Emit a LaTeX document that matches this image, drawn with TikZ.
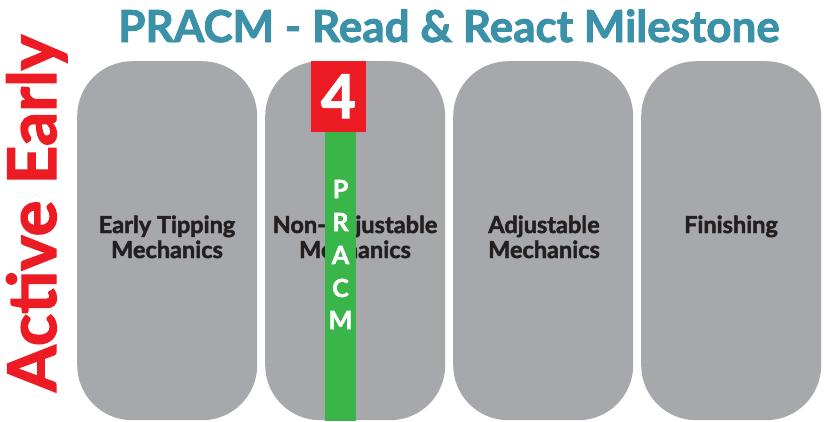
\documentclass[tikz,border=0pt]{standalone}
\usepackage{fontspec}
\setmainfont{Lato}[BoldFeatures={FakeBold=2}]
\definecolor{boxgray}{HTML}{A7A8AB}
\definecolor{pred}{HTML}{ED1C24}
\definecolor{pgreen}{HTML}{39B54A}
\definecolor{pteal}{HTML}{3A91A8}
\definecolor{ptext}{HTML}{231F20}
\begin{document}
\begin{tikzpicture}[x=1pt,y=-1pt,
  stage/.style={fill=boxgray,draw=none,rounded corners=55pt,minimum width=180pt,minimum height=359pt,inner sep=0pt,anchor=north west},
  stagetext/.style={text=ptext,font=\fontsize{23.5}{25}\selectfont\bfseries,align=center,anchor=base},
  letter/.style={text=white,font=\fontsize{25}{25}\selectfont\bfseries,anchor=base}]
\useasboundingbox (0,0) rectangle (825,421);
\node[stage] (b1) at (77,61) {};
\node[stage] (b2) at (265,61) {};
\node[stage] (b3) at (453,61) {};
\node[stage] (b4) at (641,61) {};
\node[stagetext] (t1a) at (167,233) {Early Tipping};
\node[stagetext] (t1b) at (167,258) {Mechanics};
\node[stagetext] (t2a) at (355,233) {Non-Adjustable};
\node[stagetext] (t2b) at (355,258) {Mechanics};
\node[stagetext] (t3a) at (544,233) {Adjustable};
\node[stagetext] (t3b) at (544,258) {Mechanics};
\node[stagetext] (t4a) at (731,233) {Finishing};
\fill[pgreen] (325,132) rectangle (356,421);
\node[fill=pred,minimum width=55pt,minimum height=71pt,inner sep=0pt,anchor=north west] (four) at (311,61) {};
\node[text=white,font=\fontsize{60}{60}\selectfont\bfseries,anchor=base] (fourtxt) at (338.5,118) {4};
\node[letter] (lp) at (340.5,198) {P};
\node[letter] (lr) at (340.5,231) {R};
\node[letter] (la) at (340.5,264) {A};
\node[letter] (lc) at (340.5,297) {C};
\node[letter] (lm) at (340.5,329) {M};
\node[text=pteal,font=\fontsize{44}{44}\selectfont\bfseries,anchor=base] (title) at (449,42) {PRACM - Read \& React Milestone};
\node[text=pred,font=\fontsize{67}{67}\selectfont\bfseries,rotate=90,anchor=base west,inner sep=0pt] (side) at (56,392) {Active Early};
\end{tikzpicture}
\end{document}
